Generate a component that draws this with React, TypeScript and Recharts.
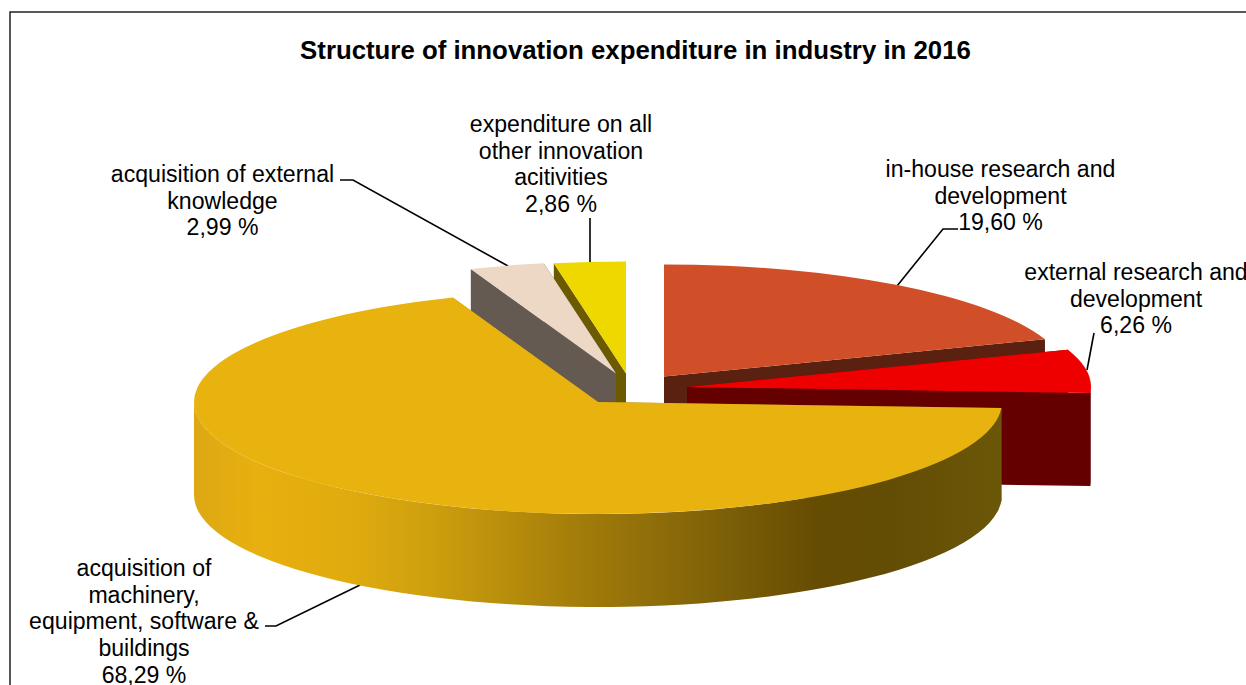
import { Pie, PieChart } from "recharts";

const title = "Structure of innovation expenditure in industry in 2016";

// order is rotated so that the machinery slice is painted last
const categories = [
  "knowledge",
  "other",
  "inhouse",
  "external",
  "machinery",
];
const shares = [2.99, 2.86, 19.6, 6.26, 68.29];
const labelLines = [
  ["acquisition of external", "knowledge"],
  ["expenditure on all", "other innovation", "acitivities"],
  ["in-house research and", "development"],
  ["external research and", "development"],
  ["acquisition of", "machinery,", "equipment, software &", "buildings"],
];

const chartData = categories.map((name, i) => ({ name, value: shares[i] }));

// pie starts at 12 o'clock for in-house, the two small slices come before it
const START = 90 + ((2.99 + 2.86) / 100) * 360;
const CX = 598;
const CY = 402;
const RX = 404;
const RY = 112;
const DEPTH = 93;

const slices: Record<
  string,
  { dx: number; dy: number; top: string; wall: string }
> = {
  knowledge: { dx: 18, dy: -28.5, top: "#edd8c5", wall: "#655a52" },
  other: { dx: 28, dy: -28.5, top: "#eed800", wall: "#6b5a00" },
  inhouse: { dx: 66, dy: -25.5, top: "#d14f28", wall: "#5a2010" },
  external: { dx: 89, dy: -15, top: "#ee0000", wall: "#640000" },
  machinery: { dx: 0, dy: 0, top: "#e8b20f", wall: "url(#wallShade)" },
};

const labelPos: Record<string, { x: number; y: number }> = {
  knowledge: { x: 222.5, y: 182 },
  other: { x: 561, y: 132 },
  inhouse: { x: 1000.5, y: 177 },
  external: { x: 1136, y: 280 },
  machinery: { x: 144, y: 576 },
};

const leaders = [
  "M340 180 L353 180 L508 266",
  "M590 218 L590 263",
  "M958 229 L943 229 L897 286",
  "M1094 333 L1087 370",
  "M265 626 L276 626 L360 585",
];

const rad = (a: number) => (a * Math.PI) / 180;

function point(ax: number, ay: number, a: number) {
  return [ax + RX * Math.cos(rad(a)), ay - RY * Math.sin(rad(a))];
}

function TopFace(props: any) {
  const s = slices[props.name];
  const ax = props.cx + s.dx;
  const ay = props.cy + s.dy;
  const [x1, y1] = point(ax, ay, props.startAngle);
  const [x2, y2] = point(ax, ay, props.endAngle);
  const large = props.startAngle - props.endAngle > 180 ? 1 : 0;
  return (
    <path
      d={`M${ax} ${ay} L${x1} ${y1} A${RX} ${RY} 0 ${large} 1 ${x2} ${y2} Z`}
      fill={s.top}
    />
  );
}

// walls are drawn in two passes, the yellow slice's wall has to sit behind the grey one
const wallsFor = (show: (name: string) => boolean) => (props: any) => {
  if (!show(props.name)) return <g />;
  const s = slices[props.name];
  const ax = props.cx + s.dx;
  const ay = props.cy + s.dy;
  const [x1, y1] = point(ax, ay, props.startAngle);
  const [x2, y2] = point(ax, ay, props.endAngle);
  // only the part of the rim facing the viewer, angles between -180 and 0
  const from = Math.min(props.startAngle, 0);
  const to = Math.max(props.endAngle, -180);
  let rim = "";
  if (from > to) {
    const [p1, q1] = point(ax, ay, from);
    const [p2, q2] = point(ax, ay, to);
    rim = `M${p1} ${q1} A${RX} ${RY} 0 0 1 ${p2} ${q2} L${p2} ${q2 + DEPTH} A${RX} ${RY} 0 0 0 ${p1} ${q1 + DEPTH} Z`;
  }
  return (
    <g fill={s.wall}>
      <path d={`M${ax} ${ay} L${x1} ${y1} L${x1} ${y1 + DEPTH} L${ax} ${ay + DEPTH} Z`} />
      <path d={`M${ax} ${ay} L${x2} ${y2} L${x2} ${y2 + DEPTH} L${ax} ${ay + DEPTH} Z`} />
      {rim && <path d={rim} />}
    </g>
  );
};

const BackWalls = wallsFor((name) => name === "other");
const FrontWalls = wallsFor((name) => name !== "other");

export default function App() {
  const pieProps = {
    data: chartData,
    dataKey: "value",
    cx: CX,
    cy: CY,
    outerRadius: RX,
    startAngle: START,
    endAngle: START - 360,
    stroke: "none",
    isAnimationActive: false,
  };
  return (
    <div style={{ position: "absolute", left: 0, top: 0, width: 1246, height: 685, background: "#fff" }}>
      <PieChart width={1246} height={685} margin={{ top: 0, right: 0, bottom: 0, left: 0 }}>
        <defs>
          <linearGradient id="wallShade" gradientUnits="userSpaceOnUse" x1={194} y1={0} x2={1002} y2={0}>
            <stop offset="0" stopColor="#dca814" />
            <stop offset="0.08" stopColor="#e8b00f" />
            <stop offset="0.19" stopColor="#e0ab0e" />
            <stop offset="0.286" stopColor="#cfa00e" />
            <stop offset="0.48" stopColor="#a27c0a" />
            <stop offset="0.64" stopColor="#806208" />
            <stop offset="0.77" stopColor="#664c03" />
            <stop offset="0.855" stopColor="#634c04" />
            <stop offset="1" stopColor="#6b5708" />
          </linearGradient>
        </defs>
        <rect x={10} y={12} width={1400} height={900} fill="#fff" stroke="#222" strokeWidth={1.5} />
        <text x={635.5} y={59} textAnchor="middle" fontFamily="Liberation Sans" fontWeight="bold" fontSize={25.8} fill="#000">
          {title}
        </text>
        <Pie {...pieProps} shape={BackWalls} />
        <Pie {...pieProps} shape={FrontWalls} />
        <Pie {...pieProps} shape={TopFace} />
        {leaders.map((d) => (
          <path key={d} d={d} fill="none" stroke="#000" strokeWidth={1.6} />
        ))}
        {categories.map((name, i) => {
          const pos = labelPos[name];
          const rows = [...labelLines[i], `${shares[i].toFixed(2).replace(".", ",")} %`];
          return (
            <text key={name} textAnchor="middle" fontFamily="Liberation Sans" fontSize={23.1} fill="#000">
              {rows.map((row, r) => (
                <tspan key={r} x={pos.x} y={pos.y + r * 26.7}>
                  {row}
                </tspan>
              ))}
            </text>
          );
        })}
      </PieChart>
    </div>
  );
}
